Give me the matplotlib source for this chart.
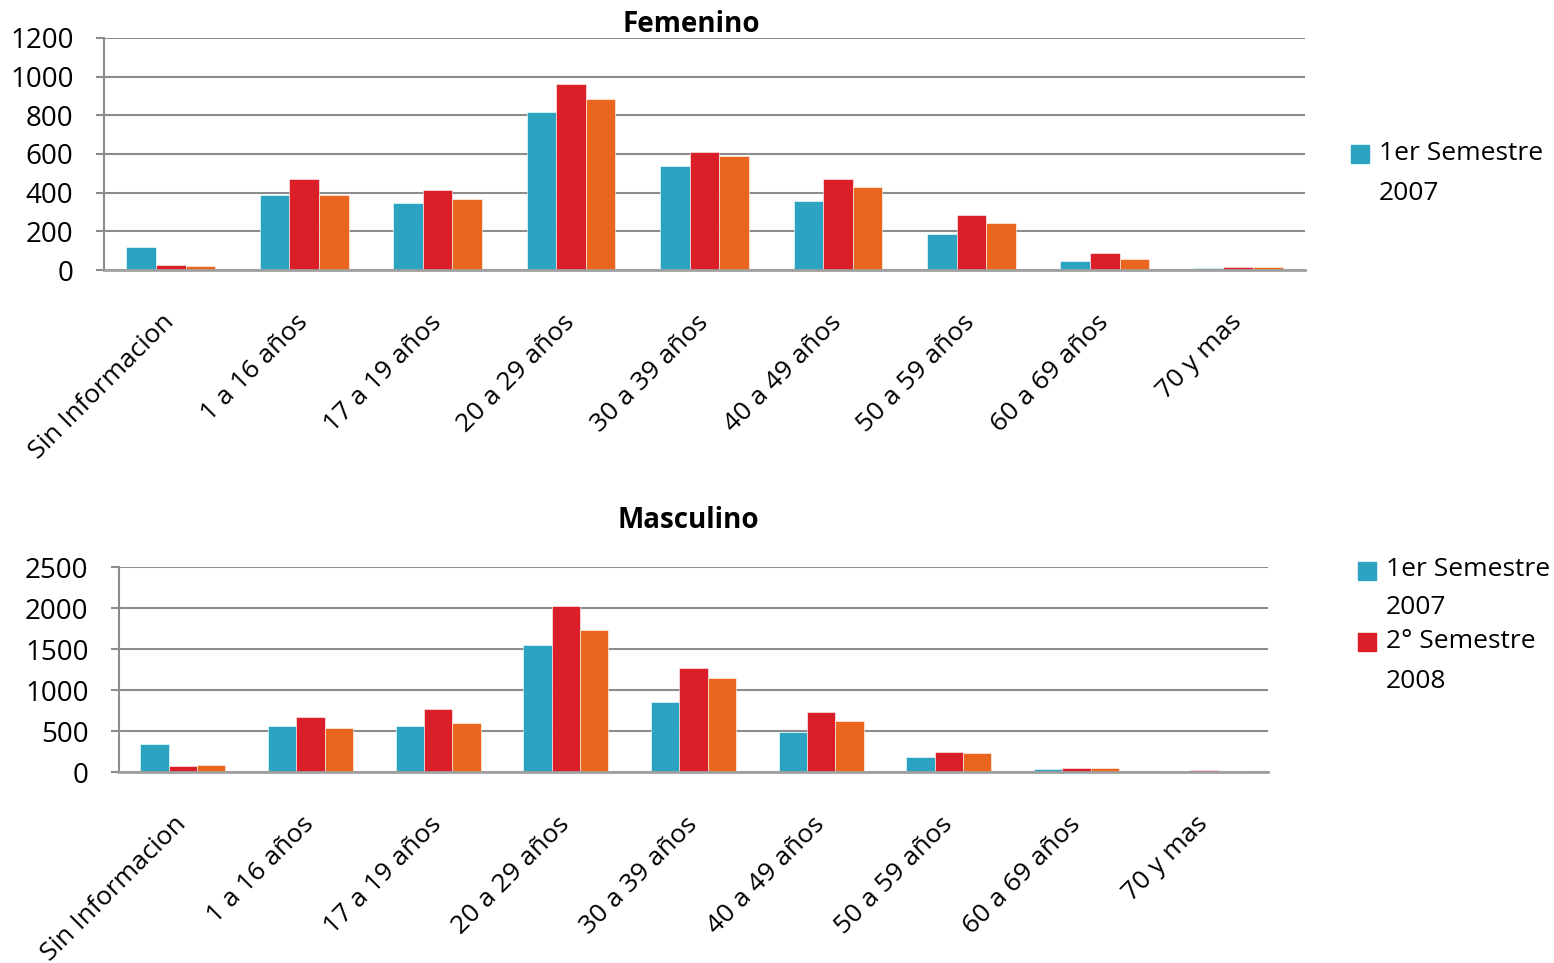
import matplotlib
matplotlib.use("Agg")
import matplotlib.pyplot as plt
import numpy as np
from matplotlib.patches import Rectangle

plt.rcParams['font.family'] = ['Open Sans', 'DejaVu Sans']

categorias = ["Sin Informacion", "1 a 16 años", "17 a 19 años", "20 a 29 años",
              "30 a 39 años", "40 a 49 años", "50 a 59 años", "60 a 69 años", "70 y mas"]

# Femenino
fem_s1_2007 = [121, 389, 345, 817, 539, 357, 186, 49, 10]
fem_s2_2008 = [26, 470, 413, 962, 608, 470, 282, 87, 14]
fem_serie3 = [21, 389, 366, 884, 591, 431, 243, 56, 14]

# Masculino
mas_s1_2007 = [346, 561, 561, 1545, 858, 482, 184, 33, 12]
mas_s2_2008 = [77, 675, 764, 2024, 1264, 735, 241, 45, 20]
mas_serie3 = [85, 533, 593, 1728, 1142, 616, 229, 53, 12]

azul = "#2ca3c1"
rojo = "#da1f28"
naranja = "#ea651d"
gris = "#8c8c8c"

W, H = 1554, 963
fig = plt.figure(figsize=(W / 100, H / 100), dpi=100)


def px(x0, y0, x1, y1):
    return [x0 / W, 1 - y1 / H, (x1 - x0) / W, (y1 - y0) / H]


def panel(rect, series, ymax, step):
    ax = fig.add_axes(rect)
    x = np.arange(len(categorias))
    w = 0.222
    for i, (vals, c) in enumerate(zip(series, [azul, rojo, naranja])):
        ax.bar(x + (i - 1) * w, vals, w, color=c, edgecolor="white", linewidth=0.4)
    ax.set_xlim(-0.5, len(categorias) - 0.5)
    ax.set_ylim(0, ymax)
    ax.set_yticks(np.arange(0, ymax + 1, step))
    ax.yaxis.grid(True, color=gris, linewidth=1.5)
    ax.set_axisbelow(True)
    for s in ["top", "right"]:
        ax.spines[s].set_visible(False)
    ax.spines["left"].set_color(gris)
    ax.spines["left"].set_linewidth(1.5)
    ax.spines["bottom"].set_color("#a0a0a0")
    ax.spines["bottom"].set_linewidth(2)
    ax.tick_params(axis="y", length=6, width=1.5, color=gris, pad=16, labelsize=20)
    ax.tick_params(axis="x", length=0, pad=35, labelsize=19)
    ax.set_xticks(x)
    ax.set_xticklabels(categorias, rotation=45, ha="right", va="center",
                       rotation_mode="anchor")
    return ax


panel(px(104, 38, 1305, 270), [fem_s1_2007, fem_s2_2008, fem_serie3], 1200, 200)
panel(px(119, 567, 1268, 772), [mas_s1_2007, mas_s2_2008, mas_serie3], 2500, 500)

fig.text(691 / W, 1 - 25 / H, "Femenino", ha="center", va="center",
         fontsize=20, fontweight="bold")
fig.text(688 / W, 1 - 520 / H, "Masculino", ha="center", va="center",
         fontsize=20, fontweight="bold")


def leyenda(x, y, color, linea1, linea2, dy=40):
    fig.patches.append(Rectangle((x / W, 1 - (y + 9) / H), 18 / W, 18 / H,
                                 transform=fig.transFigure, color=color))
    fig.text((x + 28) / W, 1 - (y - 1) / H, linea1, ha="left", va="center", fontsize=19)
    fig.text((x + 28) / W, 1 - (y + dy - 1) / H, linea2, ha="left", va="center", fontsize=19)


leyenda(1351, 154, azul, "1er Semestre", "2007")
leyenda(1358, 571, azul, "1er Semestre", "2007", dy=38)
leyenda(1358, 642, rojo, "2° Semestre", "2008", dy=40)

fig.savefig("out.png", dpi=100)
